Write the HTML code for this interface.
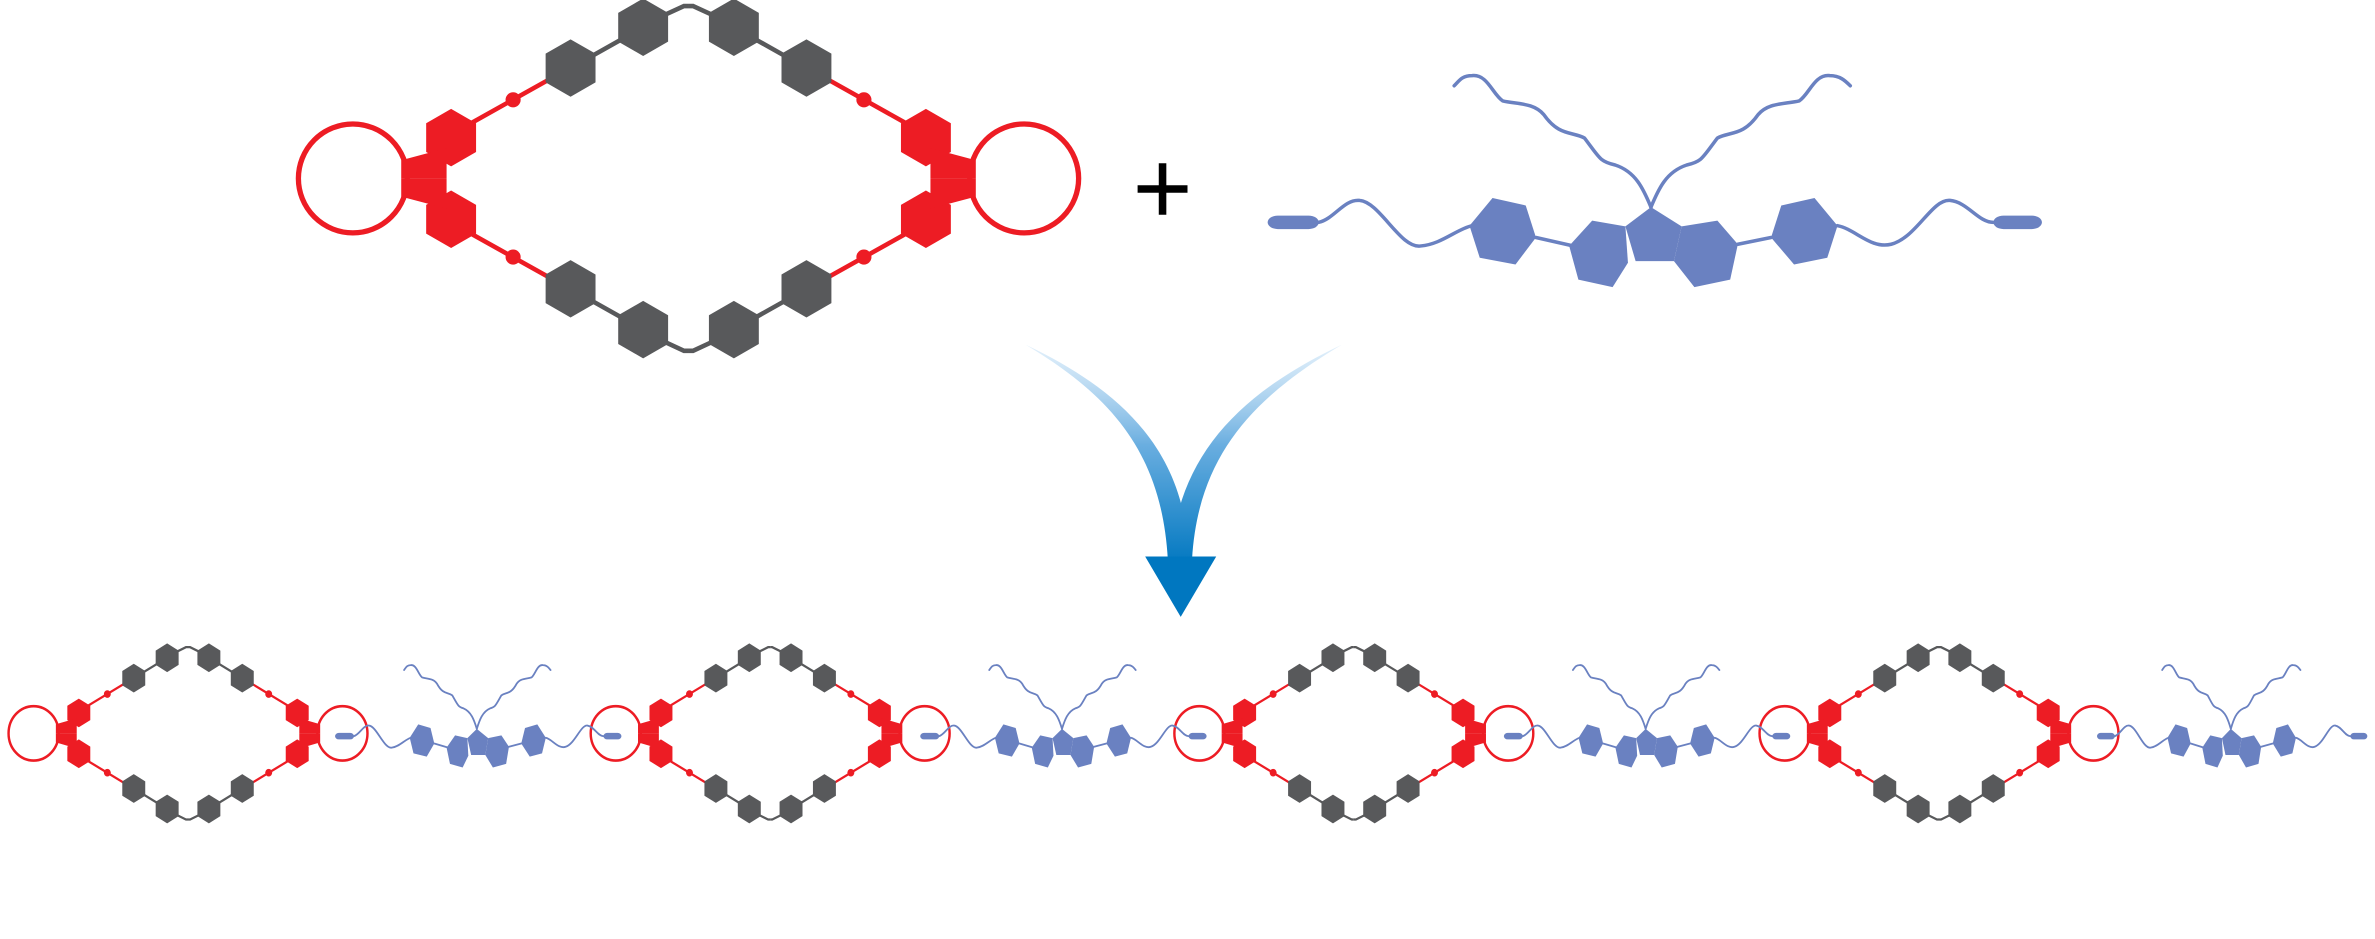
<!DOCTYPE html>
<html><head><meta charset="utf-8"><style>
html,body{margin:0;padding:0;background:#fff;}
svg{display:block;}
</style></head><body>
<svg width="2375" height="939" viewBox="0 0 1570 621" xmlns="http://www.w3.org/2000/svg">
<defs>
<linearGradient id="ag" x1="0" y1="228" x2="0" y2="375" gradientUnits="userSpaceOnUse">
<stop offset="0" stop-color="#cfe6f8" stop-opacity="0.6"/>
<stop offset="0.45" stop-color="#6aaee0"/>
<stop offset="1" stop-color="#0077c0"/>
</linearGradient>
<polygon id="hx" points="0,-19 16.5,-9.5 16.5,9.5 0,19 -16.5,9.5 -16.5,-9.5"/>
<polygon id="hg" points="0,-19 16.5,-9.5 16.5,9.5 0,19 -16.5,9.5 -16.5,-9.5"/>
<g id="q">
  <line x1="-143" y1="-37" x2="-84" y2="-70" stroke="#ed1c24" stroke-width="3"/>
  <circle cx="-116" cy="-52" r="5" fill="#ed1c24"/>
  <use href="#hx" x="-157" y="-27" fill="#ed1c24"/>
  <polygon points="-190,-12 -160,-20 -160,0 -190,0" fill="#ed1c24"/>
  <line x1="-78" y1="-73" x2="-30" y2="-100" stroke="#58595b" stroke-width="3"/>
  <polyline points="-16,-108 -3,-114 0,-114" fill="none" stroke="#58595b" stroke-width="3"/>
  <use href="#hg" x="-78" y="-73" fill="#58595b"/>
  <use href="#hg" x="-30" y="-100" fill="#58595b"/>
</g>
<g id="macro">
  <use href="#q"/>
  <use href="#q" transform="scale(-1,1)"/>
  <use href="#q" transform="scale(1,-1)"/>
  <use href="#q" transform="scale(-1,-1)"/>
  <circle cx="-222" cy="0" r="36" fill="none" stroke="#ed1c24" stroke-width="3.5"/>
  <circle cx="222" cy="0" r="36" fill="none" stroke="#ed1c24" stroke-width="3.5"/>
</g>
<g id="blue" transform="translate(-770,-435)" fill="#6a81c1" stroke="#6a81c1">
  <g fill="none" stroke-linejoin="round" stroke-linecap="round">
    <path vector-effect="non-scaling-stroke" d="M770,435 C755,380 740,330 700,310 C670,300 670,290 640,230 C615,210 590,225 560,160 C540,125 510,130 480,120 C460,100 450,40 420,45 C400,45 395,60 385,75"/>
    <path vector-effect="non-scaling-stroke" d="M770,435 C785,380 800,330 840,310 C870,300 870,290 900,230 C925,210 950,225 980,160 C1000,125 1030,130 1060,120 C1080,100 1090,40 1120,45 C1140,45 1150,60 1160,75"/>
    <path vector-effect="non-scaling-stroke" d="M120,480 C150,470 170,410 200,415 C240,420 280,560 320,550 C360,545 390,500 420,490"/>
    <path vector-effect="non-scaling-stroke" d="M1135,490 C1170,500 1200,560 1240,545 C1290,525 1320,410 1355,415 C1390,420 1410,480 1440,480"/>
    <line vector-effect="non-scaling-stroke" x1="545" y1="525" x2="612" y2="548"/>
    <line vector-effect="non-scaling-stroke" x1="940" y1="545" x2="1005" y2="525"/>
  </g>
  <g stroke="none">
    <rect x="20" y="460" width="100" height="40" rx="20"/>
    <rect x="1440" y="460" width="95" height="40" rx="20"/>
    <polygon points="460,408 525,430 545,525 505,605 435,585 415,490"/>
    <polygon points="655,475 720,492 725,600 695,672 628,650 610,550"/>
    <polygon points="770,435 830,492 815,595 740,595 720,492"/>
    <polygon points="830,492 900,475 940,545 925,650 855,672 815,595"/>
    <polygon points="1090,408 1135,490 1115,585 1050,605 1005,525 1025,430"/>
  </g>
</g>
</defs>

<use href="#macro" transform="translate(455,118)"/>
<g stroke="#000" stroke-width="5">
  <line x1="752" y1="125" x2="785" y2="125"/>
  <line x1="768.5" y1="108" x2="768.5" y2="142"/>
</g>
<use href="#blue" transform="translate(1091.5,137) scale(0.338,0.223)" stroke-width="3.5"/>

<path d="M678,228 C735,262 768,300 772,370 L786,370 C784,305 750,262 678,228 Z" fill="url(#ag)"/>
<path d="M887,228 C830,262 792,300 788,370 L774,370 C778,305 815,262 887,228 Z" fill="url(#ag)"/>
<polygon points="757,368 804,368 780.5,408" fill="#0077c0"/>

<g transform="translate(124,485) scale(0.46,0.5)"><use href="#macro"/></g>
<g transform="translate(509,485) scale(0.46,0.5)"><use href="#macro"/></g>
<g transform="translate(895,485) scale(0.46,0.5)"><use href="#macro"/></g>
<g transform="translate(1282,485) scale(0.46,0.5)"><use href="#macro"/></g>
<use href="#blue" transform="translate(315,482) scale(0.125,0.108)" stroke-width="1.8"/>
<use href="#blue" transform="translate(702,482) scale(0.125,0.108)" stroke-width="1.8"/>
<use href="#blue" transform="translate(1088,482) scale(0.125,0.108)" stroke-width="1.8"/>
<use href="#blue" transform="translate(1475,482) scale(0.118,0.108)" stroke-width="1.8"/>
</svg>
</body></html>
